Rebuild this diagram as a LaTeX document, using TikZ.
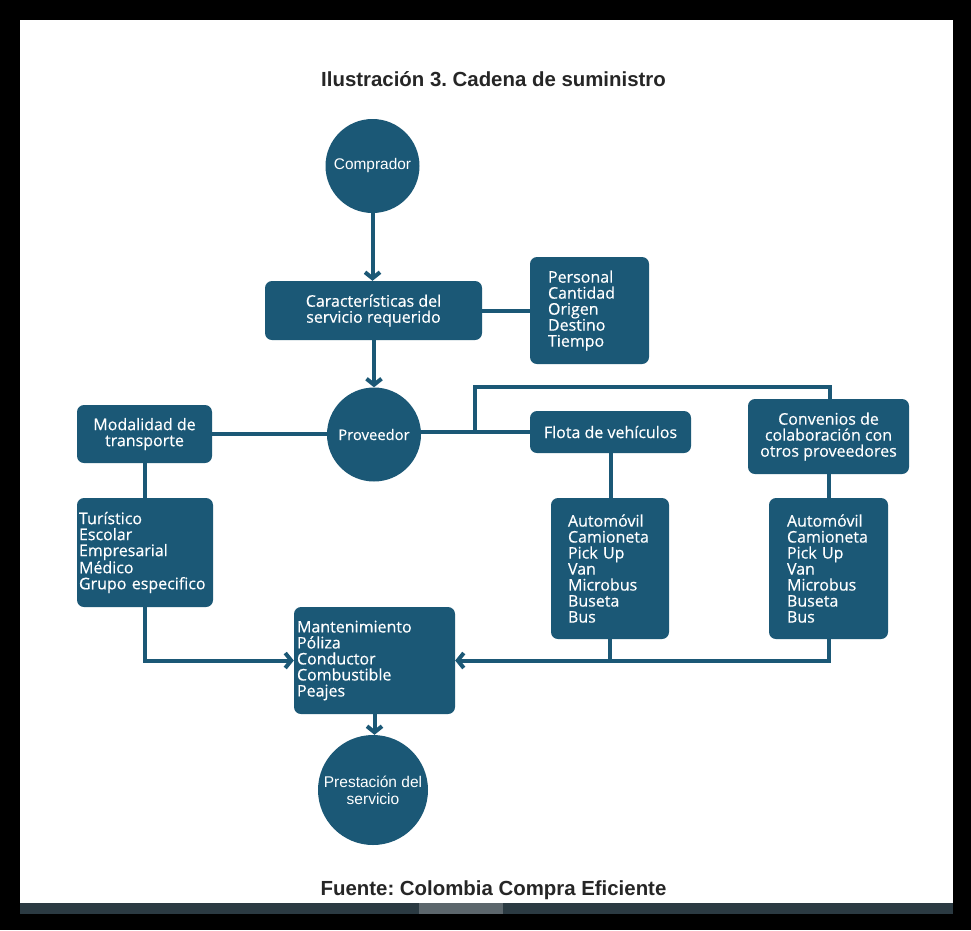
\documentclass[tikz,border=0pt]{standalone}
\usepackage{fontspec}
\setmainfont[FakeBold=0.4]{Open Sans}
\newfontfamily\arialfont{Liberation Sans}
\usetikzlibrary{arrows.meta}
\definecolor{chainblue}{HTML}{1B5876}
\definecolor{barcol}{HTML}{2B3A42}
\definecolor{thumbcol}{HTML}{5C666C}
\frenchspacing
\begin{document}
\begin{tikzpicture}[x=1pt,y=-1pt,
  box/.style={fill=chainblue, rounded corners=7pt, text=white, font=\fontsize{16}{16}\selectfont, inner sep=0pt, align=center},
  lst/.style={box, align=left},
  circ/.style={circle, fill=chainblue, text=white, inner sep=0pt, align=center},
  conn/.style={draw=chainblue, line width=4pt},
  arr/.style={conn, -{Straight Barb[length=6pt,width=15pt]}},
  heading/.style={anchor=base, font=\arialfont\bfseries\fontsize{20.4}{22}\selectfont, text=black!85}]
\useasboundingbox (0,0) rectangle (971,930);
\fill[black] (0,0) rectangle (971,930);
\fill[white] (20,20) rectangle (953,903);
\fill[barcol] (20,903) rectangle (953,914);
\fill[thumbcol] (419,903) rectangle (503,914);

\node[heading] (title) at (493.5,86.5) {Ilustración 3. Cadena de suministro};
\node[heading] (source) at (493.5,895) {Fuente: Colombia Compra Eficiente};

\node[circ, minimum size=94pt, font=\arialfont\fontsize{15.4}{17}\selectfont] (comp) at (372.5,166) {Comprador};
\node[box, minimum width=217pt, minimum height=59pt] (car) at (373.5,310.5) {Características del\\servicio requerido};
\node[lst, inner xsep=18pt, text width=83pt, minimum height=107pt] (pers) at (589.5,310.5) {Personal\\Cantidad\\Origen\\Destino\\Tiempo};
\node[circ, minimum size=94pt, font=\fontsize{14.8}{16}\selectfont] (prov) at (374,434.5) {Proveedor};
\node[box, minimum width=135pt, minimum height=58pt] (mod) at (144.5,434) {Modalidad de\\transporte};
\node[lst, inner xsep=2pt, text width=132pt, minimum height=109pt] (tur) at (145,552.5) {Turístico\\Escolar\\Empresarial\\Médico\\Grupo especifico};
\node[box, minimum width=161pt, minimum height=42pt] (flota) at (610.5,432) {Flota de vehículos};
\node[box, minimum width=161pt, minimum height=75pt] (conv) at (828.5,436.5) {Convenios de\\colaboración con\\otros proveedores};
\node[lst, inner xsep=17pt, text width=84pt, minimum height=141pt] (veh1) at (610,568.5) {Automóvil\\Camioneta\\Pick Up\\Van\\Microbus\\Buseta\\Bus};
\node[lst, inner xsep=18pt, text width=83pt, minimum height=141pt] (veh2) at (828.5,568.5) {Automóvil\\Camioneta\\Pick Up\\Van\\Microbus\\Buseta\\Bus};
\node[lst, inner xsep=3pt, text width=155pt, minimum height=107pt] (mant) at (374.5,660.5) {Mantenimiento\\Póliza\\Conductor\\Combustible\\Peajes};
\node[circ, minimum size=110pt, font=\arialfont\fontsize{15.5}{17}\selectfont] (pres) at (373,790) {Prestación del\\servicio};

\coordinate (j) at (475,432);
\coordinate (t) at (830,387);

\draw[arr] (comp.south) -- (comp.south |- car.north);
\draw[conn] (car.east) -- (pers.west);
\draw[arr] (prov.north |- car.south) -- (prov.north);
\draw[conn] (mod.east) -- (mod.east -| prov.west);
\draw[conn] (flota.west -| prov.east) -- (flota.west);
\draw[conn] (j) |- (t) -- (t |- conv.north);
\draw[conn] (flota.south) -- (flota.south |- veh1.north);
\draw[conn] (conv.south) -- (veh2.north);
\draw[conn] (mod.south) -- (mod.south |- tur.north);
\draw[arr] (tur.south) |- (mant.west);
\draw[arr] (veh2.south) |- (mant.east);
\draw[conn] (veh1.south) -- (veh1.south |- mant.east);
\draw[arr] (mant.south) -- (mant.south |- pres.north);
\end{tikzpicture}
\end{document}
